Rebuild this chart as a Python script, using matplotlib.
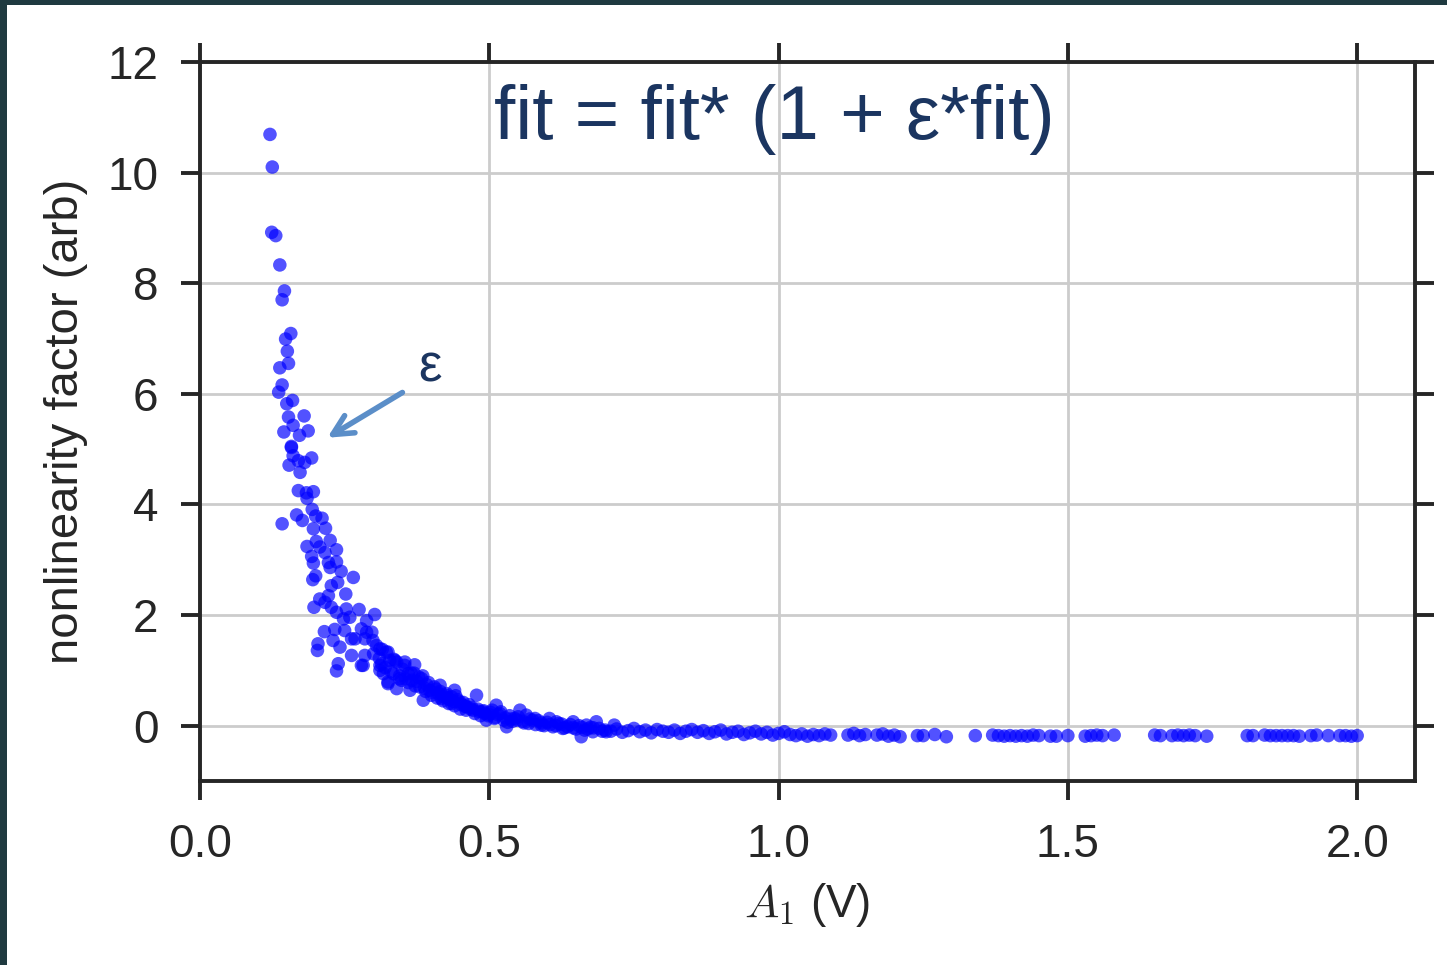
import matplotlib
matplotlib.use("Agg")
import matplotlib.pyplot as plt
from matplotlib.patches import Rectangle

# steep part, read point by point
x_steep = [0.121, 0.125, 0.124, 0.131, 0.138, 0.146, 0.142, 0.157, 0.148, 0.151,
           0.153, 0.138, 0.142, 0.136, 0.160, 0.150, 0.153, 0.180, 0.161, 0.145,
           0.172, 0.187, 0.158, 0.158, 0.161, 0.154, 0.170, 0.193, 0.181, 0.173,
           0.170, 0.184, 0.196, 0.185, 0.142, 0.167, 0.177, 0.194, 0.200, 0.211,
           0.196, 0.217, 0.185, 0.201, 0.207, 0.225, 0.236, 0.216, 0.193, 0.196,
           0.222, 0.236, 0.244, 0.225, 0.265, 0.195, 0.200, 0.227, 0.238, 0.252,
           0.207, 0.222, 0.216, 0.197, 0.227, 0.236, 0.253, 0.275, 0.302, 0.248,
           0.259, 0.288, 0.215, 0.233, 0.250, 0.262, 0.279, 0.297, 0.204, 0.203,
           0.230, 0.242, 0.268, 0.285, 0.299, 0.262, 0.279, 0.239, 0.236, 0.285,
           0.311, 0.322, 0.311, 0.328, 0.340, 0.354, 0.317, 0.334, 0.360, 0.325,
           0.348]
y_steep = [10.69, 10.10, 8.92, 8.86, 8.33, 7.86, 7.70, 7.09, 6.99, 6.77,
           6.55, 6.47, 6.16, 6.03, 5.88, 5.82, 5.58, 5.60, 5.43, 5.31,
           5.25, 5.33, 5.03, 5.05, 4.88, 4.71, 4.79, 4.84, 4.76, 4.58,
           4.25, 4.21, 4.23, 4.11, 3.65, 3.81, 3.71, 3.91, 3.79, 3.75,
           3.56, 3.57, 3.24, 3.33, 3.23, 3.35, 3.18, 3.13, 3.06, 2.94,
           2.95, 2.96, 2.79, 2.86, 2.68, 2.64, 2.71, 2.53, 2.59, 2.38,
           2.29, 2.35, 2.23, 2.14, 2.14, 2.05, 2.11, 2.10, 2.01, 1.93,
           1.96, 1.90, 1.70, 1.74, 1.72, 1.57, 1.75, 1.69, 1.48, 1.36,
           1.54, 1.42, 1.57, 1.57, 1.54, 1.27, 1.09, 1.12, 0.99, 1.27,
           1.39, 1.33, 1.09, 1.18, 1.15, 1.09, 0.94, 0.94, 0.94, 0.79,
           0.82]

# knee of the curve
x_knee = [0.288, 0.282, 0.311, 0.325, 0.314, 0.337, 0.354, 0.371, 0.325, 0.340,
          0.345, 0.363, 0.366, 0.383, 0.386, 0.397, 0.415, 0.417, 0.426, 0.440,
          0.435, 0.449, 0.461, 0.478, 0.472, 0.489, 0.495, 0.512, 0.509, 0.518,
          0.530, 0.544, 0.553, 0.564, 0.579, 0.590, 0.604, 0.616, 0.627, 0.645,
          0.659, 0.668, 0.685, 0.679, 0.702, 0.716,
          0.370, 0.375, 0.380, 0.385, 0.390, 0.395, 0.400, 0.405, 0.410, 0.415,
          0.420, 0.425, 0.430, 0.435, 0.440, 0.445, 0.450, 0.455, 0.460, 0.465,
          0.470, 0.475, 0.480, 0.485, 0.490, 0.500, 0.505, 0.510, 0.520, 0.525,
          0.535, 0.540, 0.550, 0.560, 0.570, 0.580, 0.585, 0.595, 0.600, 0.610,
          0.620, 0.630, 0.640, 0.650, 0.655, 0.665, 0.675, 0.690, 0.695,
          0.300, 0.305, 0.310, 0.315, 0.320, 0.330, 0.335, 0.345, 0.350, 0.355,
          0.360, 0.365, 0.372, 0.378, 0.388, 0.392, 0.402, 0.408, 0.412, 0.422,
          0.428, 0.432, 0.438, 0.442, 0.452, 0.458, 0.468, 0.482, 0.492, 0.498,
          0.502, 0.515, 0.528, 0.532, 0.538, 0.548, 0.558, 0.568, 0.575, 0.590,
          0.605, 0.615, 0.625, 0.635, 0.645, 0.660, 0.670, 0.680]
y_knee = [1.69, 1.09, 1.00, 1.33, 1.12, 1.18, 1.15, 1.10, 0.76, 0.67,
          0.85, 0.64, 0.82, 0.85, 0.46, 0.64, 0.73, 0.49, 0.58, 0.64,
          0.40, 0.43, 0.34, 0.55, 0.28, 0.25, 0.10, 0.37, 0.13, 0.22,
          -0.02, 0.13, 0.28, 0.19, 0.13, 0.01, 0.13, 0.07, -0.05, 0.07,
          -0.20, 0.01, 0.07, -0.11, -0.11, 0.01,
          0.95, 0.80, 0.70, 0.90, 0.62, 0.78, 0.55, 0.70, 0.50, 0.62,
          0.45, 0.55, 0.40, 0.52, 0.36, 0.47, 0.30, 0.42, 0.28, 0.38,
          0.33, 0.22, 0.30, 0.18, 0.27, 0.20, 0.28, 0.15, 0.25, 0.10,
          0.18, 0.08, 0.16, 0.05, 0.12, 0.02, 0.09, 0.00, 0.06, -0.02,
          0.04, -0.04, 0.02, -0.06, 0.00, -0.08, -0.03, -0.05, -0.10,
          1.30, 1.45, 1.22, 1.38, 1.05, 0.98, 1.20, 0.90, 1.02, 0.85,
          0.78, 0.95, 0.72, 0.88, 0.68, 0.74, 0.60, 0.66, 0.58, 0.52,
          0.50, 0.47, 0.44, 0.54, 0.38, 0.35, 0.30, 0.26, 0.22, 0.18,
          0.24, 0.20, 0.14, 0.06, 0.12, 0.10, 0.08, 0.04, 0.10, 0.05,
          0.02, 0.00, 0.03, -0.02, -0.04, -0.03, -0.06, -0.04]

# flat tail
x_flat = [0.70, 0.71, 0.72, 0.73, 0.74, 0.75, 0.76, 0.77, 0.78, 0.79,
          0.80, 0.81, 0.82, 0.83, 0.84, 0.85, 0.86, 0.87, 0.88, 0.89,
          0.90, 0.91, 0.92, 0.93, 0.94, 0.95, 0.96, 0.97, 0.98, 0.99,
          1.00, 1.01, 1.02, 1.03, 1.04, 1.05, 1.06, 1.07, 1.08, 1.09,
          1.12, 1.13, 1.14, 1.15, 1.17, 1.18, 1.19, 1.20, 1.21, 1.24,
          1.25, 1.27, 1.29, 1.34, 1.37, 1.38, 1.39, 1.40, 1.41, 1.42,
          1.43, 1.44, 1.45, 1.47, 1.48, 1.50, 1.53, 1.54, 1.55, 1.56,
          1.58, 1.65, 1.66, 1.68, 1.69, 1.70, 1.71, 1.72, 1.74, 1.81,
          1.82, 1.84, 1.85, 1.86, 1.87, 1.88, 1.89, 1.90, 1.92, 1.93,
          1.95, 1.97, 1.98, 1.99, 2.00]
y_flat = [-0.08, -0.10, -0.06, -0.12, -0.09, -0.05, -0.11, -0.08, -0.13, -0.07,
          -0.10, -0.12, -0.08, -0.14, -0.10, -0.07, -0.12, -0.09, -0.14, -0.11,
          -0.08, -0.15, -0.12, -0.10, -0.16, -0.13, -0.10, -0.15, -0.12, -0.17,
          -0.14, -0.11, -0.16, -0.18, -0.15, -0.19, -0.16, -0.18, -0.15, -0.17,
          -0.17, -0.14, -0.18, -0.16, -0.17, -0.15, -0.19, -0.17, -0.20, -0.18,
          -0.18, -0.16, -0.20, -0.18, -0.17, -0.18, -0.19, -0.18, -0.19, -0.18,
          -0.19, -0.17, -0.18, -0.19, -0.19, -0.18, -0.19, -0.18, -0.17, -0.18,
          -0.17, -0.17, -0.18, -0.18, -0.17, -0.18, -0.17, -0.18, -0.19, -0.18,
          -0.18, -0.17, -0.18, -0.18, -0.18, -0.18, -0.18, -0.19, -0.18, -0.17,
          -0.18, -0.18, -0.18, -0.19, -0.18]

x_ticks = [0.0, 0.5, 1.0, 1.5, 2.0]
y_ticks = [0, 2, 4, 6, 8, 10, 12]

navy = "#1b3560"
ink = "#262626"

plt.rcParams["font.family"] = ["Liberation Sans", "DejaVu Sans"]
plt.rcParams["mathtext.fontset"] = "cm"

fig = plt.figure(figsize=(14.47, 9.65), dpi=100, facecolor="#1f3a40")
# white slide area inside the dark screenshot border
fig.patches.append(Rectangle((7 / 1447, 0), 1, 1 - 5 / 965, transform=fig.transFigure,
                             facecolor="white", edgecolor="none", zorder=-10))
ax = fig.add_axes([0.1382, 0.1907, 0.8397, 0.7451])

ax.scatter(x_steep + x_knee + x_flat, y_steep + y_knee + y_flat,
           s=95, color="#0000ff", alpha=0.68, edgecolors="none", zorder=3)

ax.set_xlim(0, 2.1)
ax.set_ylim(-1, 12)
ax.set_xticks(x_ticks)
ax.set_yticks(y_ticks)
ax.set_xticklabels([f"{v:.1f}" for v in x_ticks])
ax.grid(True, color="#cccccc", linewidth=2)
ax.set_axisbelow(True)

for sp in ax.spines.values():
    sp.set_color(ink)
    sp.set_linewidth(2.8)
ax.tick_params(axis="both", which="both", direction="out", length=14, width=2.8,
               color=ink, labelcolor=ink, labelsize=33, pad=16,
               top=True, right=True)

ax.set_xlabel(r"$A_1$ (V)", fontsize=33, color=ink, labelpad=10)
ax.set_ylabel("nonlinearity factor (arb)", fontsize=34, color=ink, labelpad=14)

ax.text(0.473, 0.92, "fit = fit* (1 + ε*fit)", transform=ax.transAxes,
        ha="center", va="center", fontsize=55, color=navy)
ax.annotate("", xy=(0.216, 5.18), xytext=(0.354, 6.05),
            arrowprops=dict(arrowstyle="->", color="#5b8ec8", lw=4,
                            mutation_scale=36))
ax.text(0.397, 6.48, "ε", ha="center", va="center", fontsize=38, color=navy)

fig.savefig("out.png", dpi=100, facecolor=fig.get_facecolor())
